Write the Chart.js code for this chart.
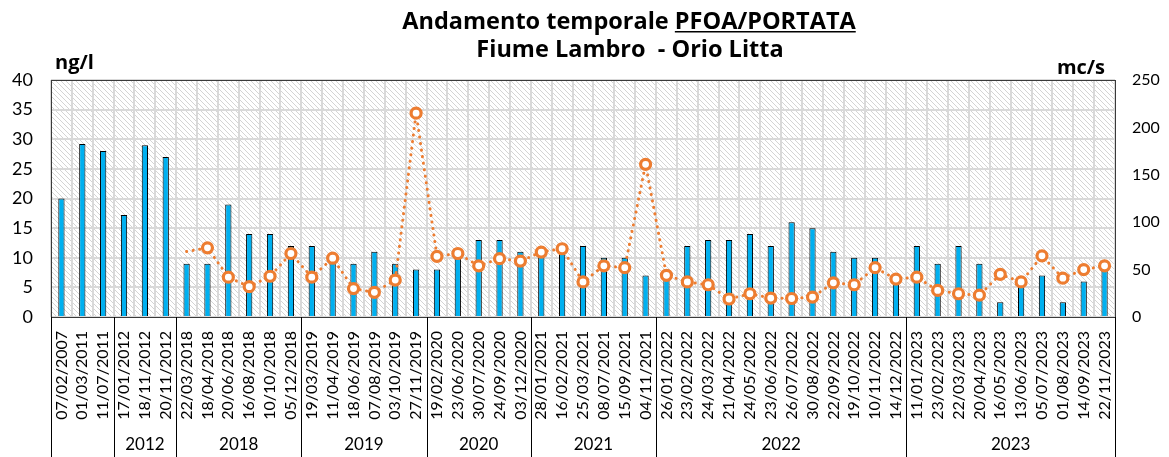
<!DOCTYPE html>
<html>
<head>
<meta charset="utf-8">
<script src="https://cdn.jsdelivr.net/npm/chart.js@4.4.0/dist/chart.umd.min.js"></script>
<style>
  html, body { margin: 0; padding: 0; background: #fff; }
</style>
</head>
<body>
<canvas id="chartPfoa" width="1169" height="457"></canvas>
<script>
const dates = [
  '07/02/2007', '01/03/2011', '11/07/2011',
  '17/01/2012', '18/11/2012', '20/11/2012',
  '22/03/2018', '18/04/2018', '20/06/2018', '16/08/2018', '10/10/2018', '05/12/2018',
  '19/03/2019', '11/04/2019', '18/06/2019', '07/08/2019', '03/10/2019', '27/11/2019',
  '19/02/2020', '23/06/2020', '30/07/2020', '24/09/2020', '03/12/2020',
  '28/01/2021', '16/02/2021', '25/03/2021', '08/07/2021', '15/09/2021', '04/11/2021',
  '26/01/2022', '23/02/2022', '24/03/2022', '21/04/2022', '24/05/2022', '23/06/2022',
  '26/07/2022', '30/08/2022', '22/09/2022', '19/10/2022', '10/11/2022', '14/12/2022',
  '11/01/2023', '23/02/2023', '22/03/2023', '20/04/2023', '16/05/2023', '13/06/2023',
  '05/07/2023', '01/08/2023', '14/09/2023', '22/11/2023'
];

// anni sotto le date (il primo gruppo non ha etichetta)
const anni = ['', '2012', '2018', '2019', '2020', '2021', '2022', '2023'];
const campioniPerAnno = [3, 3, 6, 6, 5, 6, 12, 10];

// PFOA ng/l
const pfoa = [
  20, 29.2, 28,
  17.2, 29, 27,
  9, 9, 19, 14, 14, 12,
  12, 10, 9, 11, 9, 8,
  8, 10, 13, 13, 11,
  11, 11, 12, 10, 10, 7,
  8, 12, 13, 13, 14, 12, 16, 15, 11, 10, 10, 7,
  12, 9, 12, 9, 2.5, 6, 7, 2.5, 6, 9
];

// portata mc/s
const portata = [
  null, null, null,
  null, null, null,
  69, 73, 42, 32, 43, 67,
  42, 62, 30, 26, 39, 215,
  64, 67, 54, 61.5, 59,
  68.5, 72, 37, 54, 52, 161,
  44, 37, 34, 19, 24.5, 20, 19.5, 21, 36, 34, 52, 40,
  42, 28, 24.5, 23, 45, 37, 64.5, 41, 50, 54
];

const ngTicks = [0, 5, 10, 15, 20, 25, 30, 35, 40];
const mcTicks = [0, 50, 100, 150, 200, 250];

const FONT = 'Lato, "Open Sans", sans-serif';
const FONT_TITOLO = '"Open Sans", Lato, sans-serif';

const canvas = document.getElementById('chartPfoa');
const context = canvas.getContext('2d');

// sfondo tratteggiato dell'area del grafico
const tratteggio = (() => {
  const c = document.createElement('canvas');
  c.width = 5; c.height = 5;
  const g = c.getContext('2d');
  g.strokeStyle = '#d4d4d4';
  g.lineWidth = 1;
  g.beginPath();
  g.moveTo(-1, -1);
  g.lineTo(6, 6);
  g.stroke();
  return context.createPattern(c, 'repeat');
})();

const sfondo = {
  id: 'sfondo',
  beforeDraw(chart) {
    const { ctx, chartArea: a } = chart;
    ctx.save();
    ctx.fillStyle = '#fff';
    ctx.fillRect(0, 0, chart.width, chart.height);
    ctx.fillStyle = tratteggio;
    ctx.fillRect(a.left, a.top, a.right - a.left, a.bottom - a.top);
    ctx.restore();
  }
};

const cornice = {
  id: 'cornice',
  afterDraw(chart) {
    const { ctx, chartArea: a, scales: { x } } = chart;
    ctx.save();

    // bordo area
    ctx.strokeStyle = '#3a3a3a';
    ctx.lineWidth = 1;
    ctx.strokeRect(Math.round(a.left) + 0.5, Math.round(a.top) + 0.5,
      Math.round(a.right - a.left), Math.round(a.bottom - a.top));

    // separatori e anni
    const meta = (x.getPixelForValue(1) - x.getPixelForValue(0)) / 2;
    let i = 0;
    const limiti = [a.left];
    campioniPerAnno.forEach(n => { i += n; limiti.push(x.getPixelForValue(i - 1) + meta); });
    ctx.strokeStyle = '#000';
    limiti.forEach(px => {
      const xx = Math.round(px) + 0.5;
      ctx.beginPath();
      ctx.moveTo(xx, a.bottom);
      ctx.lineTo(xx, chart.height);
      ctx.stroke();
    });
    ctx.fillStyle = '#000';
    ctx.font = '17px ' + FONT;
    ctx.textAlign = 'center';
    ctx.textBaseline = 'middle';
    anni.forEach((anno, k) => {
      ctx.fillText(anno, (limiti[k] + limiti[k + 1]) / 2, 445);
    });

    // titolo
    const t1a = 'Andamento temporale ';
    const t1b = 'PFOA/PORTATA';
    const t2 = 'Fiume Lambro  - Orio Litta';
    ctx.font = 'bold 23.5px ' + FONT_TITOLO;
    ctx.textAlign = 'left';
    ctx.textBaseline = 'alphabetic';
    const wa = ctx.measureText(t1a).width;
    const wb = ctx.measureText(t1b).width;
    const x0 = 629 - (wa + wb) / 2;
    ctx.fillText(t1a, x0, 29);
    ctx.fillText(t1b, x0 + wa, 29);
    ctx.fillRect(x0 + wa, 31, wb, 1.5);
    ctx.textAlign = 'center';
    ctx.fillText(t2, 630, 57);

    // unità di misura
    ctx.font = 'bold 20px ' + FONT_TITOLO;
    ctx.textAlign = 'left';
    ctx.fillText('ng/l', 55, 69);
    ctx.textAlign = 'right';
    ctx.fillText('mc/s', 1105, 74);

    ctx.restore();
  }
};

const chartPfoa = new Chart(context, {
  type: 'bar',
  data: {
    labels: dates,
    datasets: [
      {
        type: 'line',
        label: 'Portata',
        data: portata,
        yAxisID: 'y1',
        order: 0,
        borderColor: '#ED7D31',
        borderWidth: 3,
        borderDash: [0.1, 6.5],
        borderCapStyle: 'round',
        tension: 0,
        spanGaps: false,
        pointRadius: portata.map((v, k) => k === 6 ? 0 : 5),
        pointBorderWidth: 3.2,
        pointBorderColor: '#ED7D31',
        pointBackgroundColor: '#fff'
      },
      {
        label: 'PFOA',
        data: pfoa,
        yAxisID: 'y',
        order: 1,
        backgroundColor: '#00B0F0',
        borderColor: '#000',
        borderWidth: 1,
        barPercentage: 0.3,
        categoryPercentage: 1
      }
    ]
  },
  options: {
    responsive: false,
    animation: false,
    devicePixelRatio: 1,
    layout: { padding: { top: 80, left: 0, right: 0, bottom: 0 } },
    plugins: {
      legend: { display: false },
      title: { display: false },
      tooltip: { enabled: false }
    },
    scales: {
      x: {
        offset: true,
        border: { display: false },
        grid: { offset: true, color: '#d9d9d9', lineWidth: 2, drawTicks: false },
        ticks: {
          autoSkip: false,
          maxRotation: 90,
          minRotation: 90,
          padding: 14,
          color: '#000',
          font: { family: FONT, size: 16 }
        },
        afterFit(scale) { scale.height = 140; }
      },
      y: {
        position: 'left',
        min: 0,
        max: 40,
        border: { display: false },
        grid: { color: '#d9d9d9', lineWidth: 2, drawTicks: false },
        afterBuildTicks(scale) { scale.ticks = ngTicks.map(v => ({ value: v })); },
        ticks: {
          padding: 18,
          color: '#000',
          font: { family: FONT, size: 18 }
        },
        afterFit(scale) { scale.width = 51; }
      },
      y1: {
        position: 'right',
        min: 0,
        max: 250,
        border: { display: false },
        grid: { display: false, drawTicks: false },
        afterBuildTicks(scale) { scale.ticks = mcTicks.map(v => ({ value: v })); },
        ticks: {
          padding: 17,
          color: '#000',
          font: { family: FONT, size: 16 }
        },
        afterFit(scale) { scale.width = 54; }
      }
    }
  },
  plugins: [sfondo, cornice]
});
</script>
</body>
</html>
